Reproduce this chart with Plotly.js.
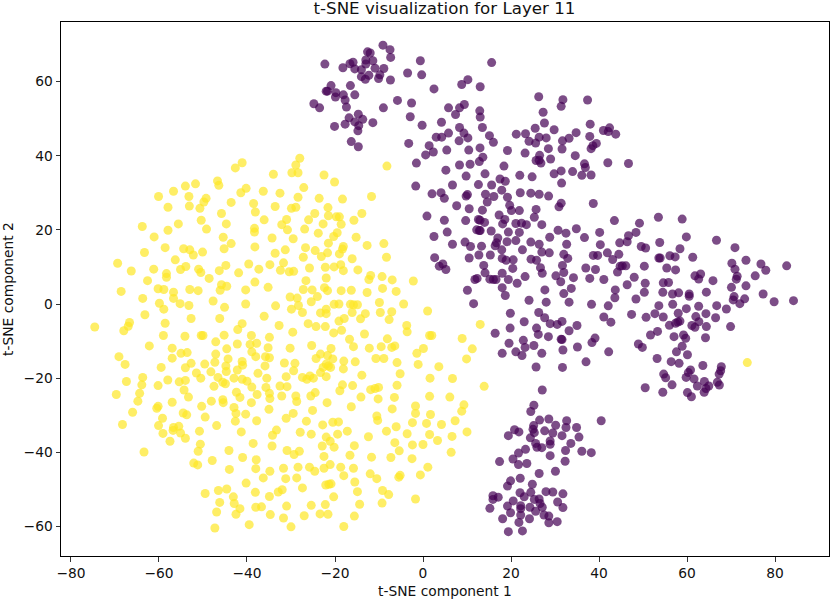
<!DOCTYPE html>
<html><head><meta charset="utf-8">
<script src="https://cdn.plot.ly/plotly-3.0.1.min.js"></script>
<style>html,body{margin:0;padding:0;background:#fff}</style></head>
<body><div id="chart" style="width:830px;height:600px"></div>
<script>
const classOne = [
[-41.1,38.1],[-42.65,36.7],[-46.7,33.2],[-46.4,32],[-51.7,32.4],[-54,31.8],[-56.7,30.4],[-60.1,29],[-53.2,29],[-40.2,31.2],[-41.4,30],[-49.3,28.5],[-49.8,27.5],[-50.7,25.8],[-53.1,26.4],[-57.95,26.1],[-43.6,27.4],[-38.5,27.1],[-38.1,24.8],[-45.8,24.4],[-50.4,22.6],[-44.7,21.6],[-55.6,21.6],[-63.8,20.9],[-57.95,19.9],[-49.2,20.2],[-38.3,20.4],[-38.3,19.4],[-61.1,18.1],[-45.4,18],[-43.6,16.3],[-45.2,14.9],[-38.2,15.4],[-58.6,15.2],[-54.4,14.9],[-53,14.6],[-52.2,13.2],[-50.1,14],[-63.3,13.9],[-56.3,11.9],[-69.4,11],[-66.3,8.9],[-61.2,9.4],[-55.1,9.3],[-53.9,10.1],[-51,9.4],[-50.5,8.5],[-46.3,9],[-44.8,10.4],[-41.9,8.4],[-39.6,10.8],[-37.3,9.4],[-58.3,8.2],[-58.3,7.2],[-62.6,6.3],[-48.6,6.9],[-38.2,5.9],[-45.8,5.2],[-44.6,4.8],[-46.1,3.7],[-40.3,3.8],[-68.6,3.4],[-60.2,4.1],[-58.9,3.9],[-56.7,3.2],[-56.7,1.5],[-53,3.9],[-51.1,3.6],[-63.7,1.5],[-59.9,0.2],[-58.9,-1.4],[-55.2,0.1],[-53.2,-0.4],[-47.7,0.8],[-45.1,-0.9],[-40.3,0],[-63.2,-2.9],[-52.7,-3.9],[-46.2,-3.9],[-58.6,-5.2],[-66.7,-5],[-67,-6],[-68,-7.2],[-74.6,-6.2],[-41.1,-5.3],[-42.1,-6.9],[-59,-8.5],[-54.1,-8.7],[-50.4,-8.5],[-50,-8.5],[-45.2,-8.4],[-39,-8.5],[-47.1,-10.2],[-42.2,-10.8],[-39.3,-10.9],[-37.8,-10.6],[-62.2,-11.3],[-57,-11.9],[-44.6,-12.1],
[-69.1,-14.2],[-67.7,-16.3],[-59.5,-17.1],[-57,-14.6],[-55,-13.3],[-53.6,-13.1],[-54,-17.2],[-52.7,-16],[-49.6,-16.2],[-47.1,-13.5],[-47.3,-15.7],[-44.3,-14.8],[-44.8,-16.7],[-44.7,-18.2],[-41.1,-15.5],[-41,-16.5],[-42.2,-17.8],[-38.9,-12.9],[-38,-14.2],[-37.5,-18.7],[-51.5,-18.6],[-48.2,-18.3],[-46.6,-19.8],[-50.5,-20],[-63.7,-19.8],[-67.4,-20.9],[-63.9,-21.8],[-60.2,-22],[-58,-20.5],[-55.4,-21],[-54,-20.6],[-47.5,-22.2],[-45.5,-21.1],[-44.9,-21.5],[-42.95,-20],[-41.1,-20.3],[-40,-20.8],[-38.9,-22.4],[-54.3,-23.2],[-64.4,-24.1],[-69.7,-24.4],[-53.3,-25.1],[-42.4,-23.8],[-41.6,-25.2],[-37.7,-24.4],[-64.8,-26.2],[-57,-26.5],[-45.5,-25.8],[-45.4,-26.6],[-48.1,-26.2],[-39,-26.6],[-50.3,-27.6],[-42.95,-27.9],[-60.5,-28.1],[-60.2,-27.6],[-66,-29.2],[-54.5,-29.4],[-53.7,-29.9],[-42.5,-29.5],[-40.3,-29.7],[-49.5,-30.5],[-59.2,-30.8],[-42.65,-31.6],[-37.8,-31.5],[-68.3,-32.5],[-60.1,-32.8],[-46.9,-32.8],[-55.5,-33],[-56.7,-33.3],[-56.8,-34.1],[-59.1,-34.9],[-55.1,-34.8],[-50.8,-34.3],[-41.3,-34.5],[-54,-36.2],[-57.5,-37],[-38.6,-37.6],[-50.6,-37.8],[-51.1,-39.7],[-44.1,-39.5],[-63.4,-39.9],[-41,-41.4],[-37.9,-42],[-47.9,-42.2],[-52.1,-42.9],[-51.2,-43.4],[-44,-44.6],[-38,-44.4],[-40.2,-48.3],[-38.1,-50.8],[-44.6,-49.9],[-46.5,-50.3],[-49.5,-51.1],[-43.1,-52],[-46.2,-53.5],[-42.9,-53.8],[-41.6,-55.2],[-38,-54.8],[-46.9,-56.1],[-42.5,-56.7],[-39.5,-59.5],[-47.3,-60.4],
[-28,39.3],[-28.9,37.5],[-29.8,35.4],[-28.4,35.4],[-34,35],[-22.5,34.8],[-20.1,32.9],[-8.2,37.2],[-27.1,31.4],[-36.3,30.4],[-32.5,29.9],[-28.4,28.8],[-23.6,28.5],[-18.3,28.3],[-11.7,29],[-33.6,26.3],[-29.9,25.8],[-28.9,26.1],[-21.6,26],[-24.6,24.4],[-13.9,24.4],[-21.5,23.8],[-19.7,23.5],[-19,23.5],[-26,22.7],[-31,22.8],[-36.1,22.7],[-15.7,22.6],[-32.1,21.4],[-22.7,21.6],[-18.6,21.5],[-30.8,20],[-26.9,20.2],[-23.8,19.1],[-19.5,19.2],[-20.3,18.2],[-34.3,17.8],[-29.5,17.6],[-15.2,18],[-21.5,16.4],[-12.7,15.8],[-8.9,16.3],[-26.7,15.2],[-18.1,15.5],[-18.3,14.8],[-31.3,14.6],[-33.6,13.7],[-24.5,14.4],[-21.7,13.8],[-19,13.5],[-23.1,12.8],[-27.2,12.6],[-16.1,12.2],[-8.3,12.6],[-31.7,11.1],[-34.8,10.6],[-32.4,9.1],[-30.4,8.7],[-29.4,8.8],[-25.8,9.7],[-22.2,9.9],[-20.2,10],[-18.7,10.6],[-18.1,9],[-14.8,9.2],[-11.9,7.7],[-12.3,6.6],[-9.3,7.4],[-7,6.5],[-2.2,6.2],[-22,7],[-26.6,6.3],[-35.2,4.5],[-22.4,4.4],[-21.7,3.6],[-27.2,3.9],[-25.2,3.8],[-18.6,3.6],[-16.3,3.7],[-12.7,3.1],[-9.2,4.2],[-6.1,3.4],[-30.2,1.9],[-28.6,1.6],[-24,2],[-25.4,0.6],[-33.5,-0.5],[-28.3,-0.4],[-29.9,-1.4],[-27.4,-2.3],[-20.2,-0.1],[-19.1,0],[-16.5,-0.1],[-15.8,-0.2],[-14.9,-0.2],[-9.9,0.4],[-4.4,0],[-22,-1.4],[-23.3,-2.4],[-22,-2.6],[-16.1,-2.3],[-13.1,-2.6],[-9.7,-2.3],[-7.1,-2.1],[1.05,-1.9],[-36.1,-3.3],[-17.9,-3.9],[-19.1,-4.6],[-14.2,-4],[-7.7,-4.2],[-26.1,-5.3],[-24.3,-6.1],[-22.2,-6.1],[-32.7,-5.8],[-3.7,-5.8],[-3.6,-7.5],[13,-5.5],[-29.6,-7.6],[-20.3,-7.8],[-18.5,-7.1],[-13.3,-8.1],[1.5,-8.5],[2,-8.5],[-34.9,-9],[8.9,-9.3],[-16.7,-9.5],[-8.1,-9.4],[-25.3,-11.2],[-30.2,-11.9],[-35.2,-11.8],[-20.9,-12],[-15.8,-11.5],[-12.2,-11.9],[-9.5,-11.5],[-7.1,-11.7],[-6.4,-11.3],[0.1,-12],[11.2,-12.1],
[-35.8,-14.2],[-34.9,-14.5],[-31.5,-15.9],[-29.1,-16],[-29.4,-18],[-35.9,-16.7],[-24.3,-14.7],[-23.3,-13.5],[-21.7,-13.9],[-20.5,-14.8],[-22,-16.2],[-21.5,-16.7],[-21,-17.1],[-22.7,-17.1],[-23.3,-18.5],[-22,-19.6],[-18,-15.4],[-18.1,-17.5],[-15.4,-15.6],[-10.7,-14.7],[-8.9,-14.7],[-5.9,-15.8],[-1.4,-13.3],[-1.1,-16.3],[3.6,-16.9],[9.9,-14.8],[13.9,-22.2],[-5.2,-18.8],[-13.9,-19.2],[-31.1,-19.6],[-35.5,-20],[-27.4,-19.8],[-26.4,-20.3],[-25.7,-19.4],[-24.9,-20],[1.6,-20],[6.7,-20.1],[-18.3,-21.8],[-16,-22],[-18.9,-23.4],[-11.9,-23.1],[-10.9,-22.8],[-10.1,-22.5],[-5.9,-21.9],[-32.5,-22.1],[-30.9,-22.3],[-35.7,-22.5],[-34.9,-24.1],[-34.8,-25.5],[-32.1,-24.8],[-28.9,-24.8],[-28.7,-26.3],[-25.5,-24.8],[-24.5,-23.9],[-14.1,-25.1],[-10.2,-25.6],[-6.5,-25.2],[1.5,-24.9],[6.1,-25.1],[-21.8,-26.6],[-16.3,-27.7],[-35,-28.4],[-25.1,-28.7],[-29.5,-29.5],[-7,-28.3],[-1.7,-27.5],[-1.7,-29.5],[9.3,-27.2],[8.8,-28.9],[1.7,-29.8],[-10.5,-30.2],[-10.3,-31.4],[-31.1,-30.8],[-26.5,-31.6],[-20.5,-31.9],[-19.2,-31.8],[-22.8,-32.6],[-2.4,-32],[0.8,-32.2],[4.2,-32.5],[7.3,-31.5],[-6.1,-33.1],[-8.3,-34.3],[-17.2,-34.3],[-19.4,-35.1],[-33.3,-34],[-34.2,-35.4],[-27.9,-34.6],[-25.4,-35.1],[-3.6,-35],[1.5,-35.2],[10,-34.5],[6.6,-35.7],[-12.4,-35.8],[-22,-35.9],[-21.1,-37],[-6.4,-37.4],[3.3,-36.8],[0,-37.9],[-2.4,-38],[-34.3,-38.3],[-22.9,-38.3],[-20.2,-38.6],[-15.6,-38.2],[-5.4,-39.6],[-30.9,-39.5],[-28.1,-39.7],[-29.3,-40.6],[-22.5,-41.1],[-16.6,-40.8],[-11.7,-41.3],[-7.3,-41.4],[-2.5,-41.7],[6.4,-40],[-31.7,-44.3],[-28.4,-44],[-25.8,-44],[-24.6,-45.1],[-22.5,-44.3],[-21.1,-43.3],[-18.7,-44],[-15.8,-44.3],[-34.8,-45.1],[-36.3,-46.9],[1.1,-44],[-0.6,-46.1],[-18,-46.3],[-12,-45.8],[-10.5,-47.1],[-5.2,-46.2],[-5.5,-46.7],[-31.2,-47.1],[-28.7,-46.9],[-15.5,-48],[-22.1,-48.8],[-21.4,-48.6],[-20.9,-48.5],[-27.4,-49.6],[-32,-50.1],[-32.9,-50.7],[-34.9,-51.9],[-14.9,-50.6],[-9.2,-50.3],[-7.8,-51.4],[-20.3,-52],[-1.7,-52.6],[-9.3,-53.7],[-14.4,-54],[-31,-54.5],[-36.7,-54.7],[-25.4,-54.3],[-22.2,-54.1],[-34.7,-56.8],[-31.7,-57.7],[-27,-57.1],[-23.4,-56.6],[-21.6,-56.7],[-15.6,-57.2],[-30,-60.1],[-18,-60],
[73.7,-15.8]
];
const classZero = [
[-9.1,69.8],[-7.5,68.6],[-7.35,66.5],[-12.6,68],[-12,67.7],[-13,65.8],[-11.4,65.6],[-13,64.7],[-0.6,65.6],[15.6,65.1],[-22.3,64.7],[-16.6,64.8],[-15.9,65.2],[-18.2,63.7],[-15.5,63.4],[-14,63.2],[-10.9,63.6],[-8.9,63.5],[-3.5,62.3],[-0.3,61.8],[-14,61.3],[-12.3,61.7],[-13.1,60.6],[-9.8,61.8],[-10.1,60.8],[-7.4,60.4],[10.2,60.5],[8.8,59.2],[13,58.6],[2.5,58],[-20.9,58.9],[-16.5,58.9],[-22,57.4],[-21.7,57.4],[-19.8,57],[-19.9,55.8],[-18.1,56.4],[-15.5,56.4],[-17.7,55],[-5.8,54.9],[-2.6,54.2],[-24.8,54],[-23.5,52.9],[-17.4,53.1],[-9,52.9],[5.8,52.9],[9.4,53.8],[8.3,52.9],[7.4,51.1],[12.9,52.1],[13,50.4],[-2.9,50.5],[-14.7,51.2],[-16.8,50.2],[-13.7,49.8],[-15.5,49.1],[4.2,49],[-17.7,48.5],[-20.1,47.9],[-14.6,48.1],[-11.4,48.9],[-0.2,48.2],[-14.8,46.7],[8.3,47.6],[13.5,47.6],[9.3,46.1],[5.8,46.1],[3,45],[4.25,45],[10.2,44.8],[8.2,44],[15.1,45.4],[16,43.6],[-16.3,43.8],[-14.7,42.4],[-3.25,43.3],[1.4,42.7],[2.35,41],[5.4,41.5],[10.4,41.5],[12.96,42.1],[0.6,40.2],[13.6,39.6],[12.8,38.4],[-1.5,38],[8.3,37.5],[10.7,37.7],[5.2,36.1],[14.1,35.1],[9.8,34.5],[17.5,33.7],[6.7,32.1],[12.6,32.2],[15.6,32.1],[-1.65,31.8],[2.05,29.7],[4.1,30],[10.1,29.5],[9.8,29.1],[14.2,29.6],[16.1,29],[4.85,28.5],
[26.3,55.9],[31.8,55.1],[31.4,53.3],[37.4,55],[27.3,51.7],[27.6,48.8],[38,48.5],[25.5,47.4],[29.8,47],[21.2,45.8],[23.3,45.9],[34.8,46.2],[26.4,45],[28,44.8],[24.1,43.9],[25.6,43.4],[37.9,45.2],[41,46.8],[42.4,47.5],[42.1,46.5],[43.8,45.8],[33.2,44.7],[31.7,44],[39.4,43.3],[38.6,42.7],[38.2,41.9],[28.5,41.9],[31.6,41.8],[19.2,41.4],[23.2,40.7],[26.5,40.1],[34.6,40],[29,39.1],[25.7,38.7],[26.8,38],[26.4,38.8],[42,38.1],[46.7,37.9],[36.7,37.8],[36.9,36.8],[18.4,37.2],[31.4,35.9],[29.8,35.1],[34,35.7],[36.1,34.7],[38.2,34.8],[22,34.7],[24.8,34.3],[18.7,33.1],[31.5,32.6],[17.9,30.7],[22.1,30],[24.5,29.9],[26.4,29.6],[28.55,29.1],[14.6,27.5],[19.2,28.8],[31.4,27.2],[30.9,26.2],[38.7,27.1],[19.7,26.6],[20.1,25.2],[21.9,25.2],[13.5,25.3],[25.7,25.5],[25.3,23.4],[17.3,24],[18.6,22.8],[18.1,21.6],[14,22],[12.95,22.6],[21.1,21.7],[22.4,21.8],[23.5,21.4],[27,21.4],[43.5,22.5],[49.2,21.8],[34.85,20.3],[30.7,19.9],[32.5,19.1],[28.8,18],[36.7,17.9],[40.15,19.3],[15.5,19.7],[19.4,19.4],[21.9,19.3],[48.4,19.3],[46.7,18.4],[13,19.8],[17,17.8],[19.1,16.8],[21.1,17.1],[16.7,16.5],[16.4,15.7],[24.5,16.7],[26.4,16.1],[32.65,16.1],[40.3,16],[44.7,16.5],[46.4,16.8],[49.6,15.5],[50.6,15.1],[13.3,15.6],[17.9,14.6],[22.6,14.6],
[0.9,23.7],[4.85,22.6],[7.65,26.5],[10.5,25.7],[9.7,22.5],[12.6,22.8],[12.2,20],[12.8,19.8],[5.5,19.4],[2.5,18.2],[6.7,16.1],[9.55,16.7],[10.8,15.5],[12.7,13.2],[10.5,12.4],[2.65,12.5],[3.7,10.2],[4.5,10.8],[5.2,9.3],[15.3,13.2],[13.8,10.4],[14.1,8.4],[11.8,6.6],[12.3,6.9],[15.2,6.7],[16,6.6],[16.6,6.6],[18,8.3],[19.4,6.6],[21.4,5.6],[18,4.4],[18.7,2.3],[10.1,3.7],[11.5,0.1],[18,12.3],[18.9,11.8],[20.5,11.9],[20.4,9.6],[23.2,7.4],[24.55,12.1],[25.8,11.8],[26.7,9.8],[27.1,8.3],[27,14],[28.7,13.8],[32,13.4],[32.9,12.3],[31.7,10.4],[32,8.5],[30.2,7.6],[31.3,6],[34.2,7.1],[37,9.7],[39.2,9.3],[37.9,6.9],[41.1,6.6],[38.7,13.1],[39.7,13.1],[41.9,13.8],[43.1,12],[44.8,10.2],[44.2,8.6],[27.7,3.8],[33.7,4.2],[32,2.8],[43.7,3.8],[43.6,1.7],[24.1,1],[28,0.5],[33.2,0.5],[38.3,-0.1],[42.1,-0.5],[19.85,-2.5],[26.3,-2.3],[27.65,-3.7],[41.1,-3.5],[42.7,-4.9],[23,-4.8],[28.9,-5.3],[30.5,-5.5],[31.6,-4.7],[35,-5.8],[19.8,-6.5],[25.8,-6.5],[33.2,-7.2],[16.4,-7.9],[26.2,-8.2],[28.5,-8.8],[31.4,-9.5],[31.6,-9.6],[39.1,-9.2],[38.4,-10.4],[22.8,-9.8],[19.55,-10.6],[25.2,-11.2],[23.2,-11.7],[35.1,-11.6],[31.8,-12.4],[18,-13.3],[21.1,-12.9],[22.5,-13.9],[27,-13.3],[42.2,-12.9],[37.05,-15.6],[25.7,-17],[31.7,-17.1],
[44.5,13.4],[48,7.2],[46.4,5.2],[53.5,23.4],[58.9,22.9],[59.85,18.1],[66.7,17.2],[53.8,16.6],[58.4,14.9],[70.9,15.2],[53.6,12.4],[53.9,12.4],[56.1,13],[57.3,12.7],[61.3,12.6],[50.3,10.2],[45.3,10.3],[46.1,10.3],[55.4,9.7],[57.4,9.2],[70.2,11],[73.4,11.8],[76.8,10.8],[77.9,9.1],[82.65,10.3],[70.9,9.4],[75.5,7.6],[71.4,7.5],[71.2,6.7],[61.8,7.6],[63.1,8.1],[62.65,6.75],[65.9,6.3],[50.5,5.6],[54.6,5.7],[55.8,5.8],[70.1,4.5],[73.4,4.9],[50.3,3.15],[54.5,3.15],[56.7,2.7],[58.1,3],[60.5,2.7],[60.5,2.1],[64.4,3.2],[77.3,2.7],[48.4,1.35],[70.7,2],[70.5,1.1],[73.1,1.4],[79.8,0.6],[84.2,0.9],[72,0.1],[53.6,-0.45],[56.75,-0.1],[62.65,-0.6],[66.75,-0.45],[68.95,-1.35],[59.85,-1.25],[58,-2.5],[52.7,-2.6],[64.3,-2.6],[47.4,-2.8],[50.7,-3.6],[54.6,-3.5],[62,-3.4],[66.5,-3.7],[57.9,-4.85],[58.4,-4.6],[57.4,-5.2],[56,-5.75],[62.7,-4.8],[61.1,-5.8],[61.8,-6.3],[64.4,-6.1],[69.9,-6.1],[53.3,-7.4],[51.7,-8.35],[57.05,-8.8],[59.2,-8.35],[59.7,-9.25],[64.2,-9.1],[48.95,-10.8],[49.85,-11.7],[58.9,-11.4],[57.6,-12.9],[60.1,-13.7],[53.2,-14.7],[56.4,-15.55],[58.2,-16],[63.6,-16.6],[67.8,-16.9],[60.8,-17.8],[67.65,-18],[67.3,-18.9],[60.3,-18.5],[59.8,-19.8],[54.7,-18.9],[55.15,-19.9],[61.6,-20.2],[63.95,-20.9],[66.9,-21.1],[67.35,-21.85],[64.95,-22.1],[62.35,-22.1],[64.3,-22.8],[63.9,-23.8],[56.6,-21.8],[50.5,-22.6],[54.5,-23.8],[60.1,-23.9],[61,-25],
[27.1,-23.2],[25.2,-27.3],[24.5,-29],[40.5,-31.5],[26.5,-31.3],[28.6,-31],[32.65,-31.5],[30.15,-32.7],[32.5,-33.3],[34.9,-33.3],[25.15,-32.8],[20.8,-33.9],[21.8,-34.5],[19.4,-35.5],[25,-33.8],[25.3,-34.7],[27.65,-34.2],[29.5,-34.8],[31.6,-35.5],[35.45,-35.9],[24.4,-36.1],[28.9,-36.95],[28.9,-37.85],[33.6,-37.6],[25.6,-37.6],[25.9,-38.65],[27,-38.75],[23.3,-39.2],[21.7,-40.2],[32.4,-39.5],[36.1,-39.7],[38.25,-40.1],[28.9,-40.9],[20.45,-41.8],[17.4,-42.5],[21.7,-43.3],[23.6,-43],[32.3,-42.4],[26.4,-45.7],[30.1,-45.1],[22.1,-47],[19.9,-47.7],[19.2,-49.1],[24.85,-48.6],[27.95,-50.6],[29.5,-50.7],[31.8,-51.2],[22.05,-50.9],[24.5,-50.8],[23,-52],[15.9,-51.7],[17.1,-52.1],[15.9,-52.7],[25.3,-52.7],[26.4,-52.6],[20.5,-53.1],[30.6,-53.4],[15.2,-55.1],[19.2,-54.5],[22.2,-54.4],[22.2,-55.2],[24.3,-54.8],[26.6,-53.8],[27.1,-54.8],[31.8,-54.9],[19.9,-56.3],[25.6,-55.9],[22.2,-56.9],[18.1,-57.9],[24.2,-57.9],[27.5,-56.9],[28.6,-57.2],[21.8,-58.9],[28.6,-59],[30.5,-58.7],[19.4,-61.4],[22.6,-61.2]
];
const xTicks = [-80,-60,-40,-20,0,20,40,60,80];
const yTicks = [-60,-40,-20,0,20,40,60];
const axisFont = {family:'"DejaVu Sans",sans-serif',size:13.8,color:'#111'};
function series(points,color){
  return {type:'scatter',mode:'markers',x:points.map(p=>p[0]),y:points.map(p=>p[1]),
    marker:{color:color,size:9,opacity:0.7,line:{width:0}},hoverinfo:'x+y',showlegend:false};
}
function axis(title,range,ticks,standoff){
  return {title:{text:title,font:axisFont,standoff:standoff},range:range,tickmode:'array',tickvals:ticks,
    ticktext:ticks.map(v=>String(v).replace('-','\u2212')),tickfont:axisFont,ticks:'outside',ticklen:4.5,tickwidth:1,tickcolor:'#333',
    showgrid:false,zeroline:false,showline:true,linecolor:'#000',linewidth:1,mirror:true};
}
Plotly.newPlot('chart',[series(classZero,'#440154'),series(classOne,'#fde725')],{
  width:830,height:600,margin:{l:61,r:1,t:22,b:44},paper_bgcolor:'#fff',plot_bgcolor:'#fff',
  title:{text:'t-SNE visualization for Layer 11',font:{family:'"DejaVu Sans",sans-serif',size:16.67,color:'#111'},x:0.5355,xanchor:'center',y:0.9865,yanchor:'middle'},
  xaxis:axis('t-SNE component 1',[-82.27,92.27],xTicks,6),
  yaxis:axis('t-SNE component 2',[-67.96,76.05],yTicks,7)
},{displayModeBar:false});
</script></body></html>
